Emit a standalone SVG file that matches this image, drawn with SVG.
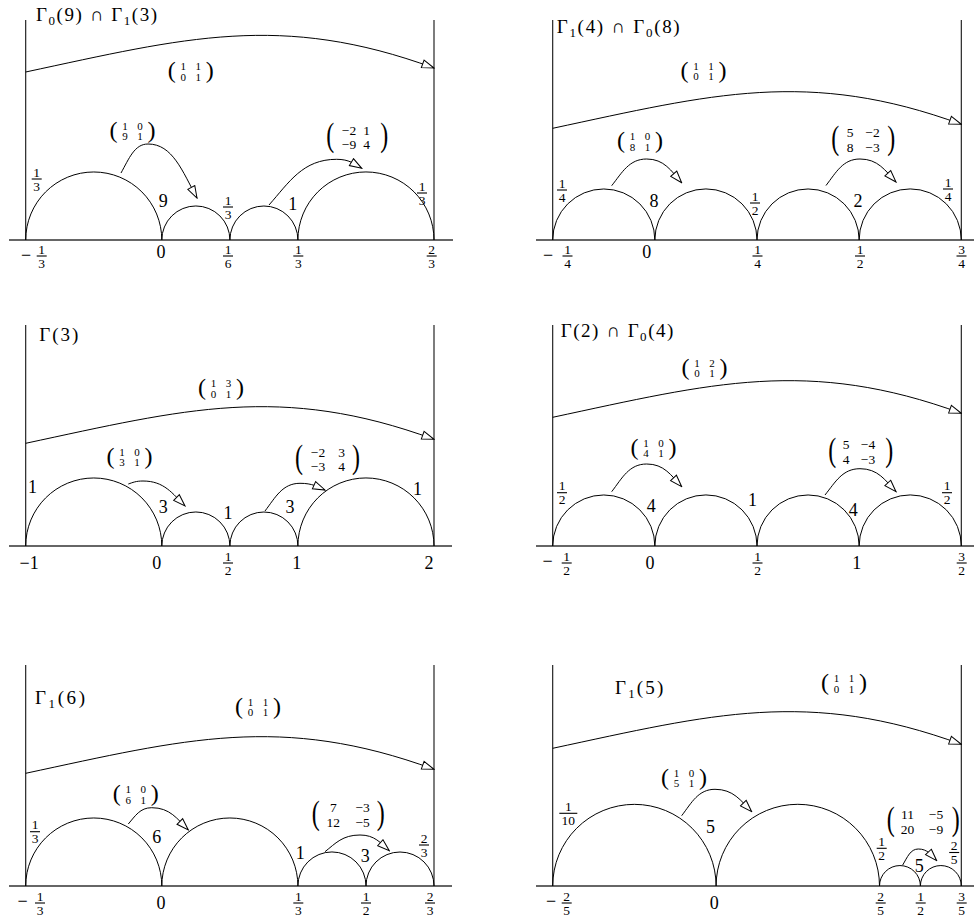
<svg xmlns="http://www.w3.org/2000/svg" width="974" height="924" viewBox="0 0 974 924">
<defs>
<style>
.ax{stroke:#333;stroke-width:1.4;fill:none}
.vl{stroke:#111;stroke-width:1.1;fill:none}
.arc{stroke:#000;stroke-width:1;fill:none}
.ar{stroke:#000;stroke-width:1;fill:none;marker-end:url(#ot)}
text{font-family:"Liberation Serif","Times New Roman",serif;fill:#000}
.n{font-size:18px;text-anchor:middle}
.f{font-size:13.5px;text-anchor:middle}
.fb{stroke:#000;stroke-width:1.1}
.sm{font-size:11px;text-anchor:middle}
.bm{font-size:13.5px;text-anchor:middle}
.p{font-size:24px;text-anchor:middle}
.t{font-size:19px}
.sub{font-size:13px}
</style>
<marker id="ot" viewBox="0 0 14 10" refX="13" refY="5" markerWidth="14" markerHeight="10" orient="auto" markerUnits="userSpaceOnUse">
<path d="M1,1 L13,5 L1,9 Z" fill="#fff" stroke="#000" stroke-width="1"/>
</marker>
</defs>
<rect width="974" height="924" fill="#fff"/>

<!-- Panel 1 -->
<g id="panel1">
<g id="p1-frame">
<line class="ax" x1="9" y1="240" x2="453" y2="240"/>
<line class="vl" x1="25.7" y1="20" x2="25.7" y2="240"/>
<line class="vl" x1="434" y1="20" x2="434" y2="240"/>
<path class="arc" d="M25.7,240 A68.05,68.05 0 0 1 161.8,240 A34.05,34.05 0 0 1 229.9,240 A34,34 0 0 1 297.9,240 A68.05,68.05 0 0 1 434,240"/>
</g>
<g id="p1-connectors">
<path class="ar" d="M25.7,72 C184.7,38 281,12 434,68"/>
<path class="ar" d="M121,173 C129.1,158.5 134.5,144 148,144 C172.5,144 182.3,171 197,198"/>
<path class="ar" d="M269,205 C289.3,182.1 302.8,159.3 336.7,159.3 C349.2,159.3 354.2,163.8 361.7,168.3"/>
</g>
<g id="p1-labels">
<text class="t" x="36" y="21" textLength="121" lengthAdjust="spacing">Γ<tspan class="sub" dy="4">0</tspan><tspan dy="-4">(9) ∩ Γ</tspan><tspan class="sub" dy="4">1</tspan><tspan dy="-4">(3)</tspan></text>
<g transform="translate(190.8,72)"><text class="p" x="-19" y="6">(</text><text class="p" x="19" y="6">)</text><text class="sm" x="-7.5" y="-2">1</text><text class="sm" x="7.5" y="-2">1</text><text class="sm" x="-7.5" y="8.5">0</text><text class="sm" x="7.5" y="8.5">1</text></g>
<g transform="translate(132.5,131.5)"><text class="p" x="-19" y="6">(</text><text class="p" x="19" y="6">)</text><text class="sm" x="-7.5" y="-2">1</text><text class="sm" x="7.5" y="-2">0</text><text class="sm" x="-7.5" y="8.5">9</text><text class="sm" x="7.5" y="8.5">1</text></g>
<g transform="translate(357.2,138.3)"><text class="p" transform="translate(-27,7.8) scale(1,1.4)">(</text><text class="p" transform="translate(27,7.8) scale(1,1.4)">)</text><text class="bm" x="-8.2" y="-3.5">−2</text><text class="bm" x="9.5" y="-3.5">1</text><text class="bm" x="-8.2" y="11">−9</text><text class="bm" x="9.5" y="11">4</text></g>
<text class="n" x="163.3" y="206.7">9</text>
<text class="n" x="292.7" y="210">1</text>
<g transform="translate(36.7,179)"><text class="f" y="-2.5">1</text><line class="fb" x1="-5" x2="5"/><text class="f" y="11.5">3</text></g>
<g transform="translate(228,207)"><text class="f" y="-2.5">1</text><line class="fb" x1="-5" x2="5"/><text class="f" y="11.5">3</text></g>
<g transform="translate(422,193)"><text class="f" y="-2.5">1</text><line class="fb" x1="-5" x2="5"/><text class="f" y="11.5">3</text></g>
<text class="n" x="26" y="261">−</text>
<g transform="translate(41.7,256)"><text class="f" y="-2.5">1</text><line class="fb" x1="-5" x2="5"/><text class="f" y="11.5">3</text></g>
<text class="n" x="161" y="258">0</text>
<g transform="translate(228,256)"><text class="f" y="-2.5">1</text><line class="fb" x1="-5" x2="5"/><text class="f" y="11.5">6</text></g>
<g transform="translate(298.3,256)"><text class="f" y="-2.5">1</text><line class="fb" x1="-5" x2="5"/><text class="f" y="11.5">3</text></g>
<g transform="translate(431.7,256)"><text class="f" y="-2.5">2</text><line class="fb" x1="-5" x2="5"/><text class="f" y="11.5">3</text></g>
</g>
</g>

<!-- Panel 2 -->
<g id="panel2">
<g id="p2-frame">
<line class="ax" x1="536" y1="240" x2="974" y2="240"/>
<line class="vl" x1="552.7" y1="20" x2="552.7" y2="240"/>
<line class="vl" x1="961.3" y1="20" x2="961.3" y2="240"/>
<path class="arc" d="M552.7,240 A51.075,51.075 0 0 1 654.85,240 A51.075,51.075 0 0 1 757,240 A51.075,51.075 0 0 1 859.15,240 A51.075,51.075 0 0 1 961.3,240"/>
</g>
<g id="p2-connectors">
<path class="ar" d="M552.7,128.3 C711.7,94.3 808.3,68.3 961.3,124.3"/>
<path class="ar" d="M611.7,185.7 C622.2,172.35 629.2,159 646.7,159 C664.2,159 671.2,170.85 681.7,182.7"/>
<path class="ar" d="M826,185.5 C836.2,172.25 843,159 860,159 C878,159 885.2,170.5 896,182"/>
</g>
<g id="p2-labels">
<text class="t" x="556.7" y="33" textLength="123" lengthAdjust="spacing">Γ<tspan class="sub" dy="4">1</tspan><tspan dy="-4">(4) ∩ Γ</tspan><tspan class="sub" dy="4">0</tspan><tspan dy="-4">(8)</tspan></text>
<g transform="translate(703.5,71.5)"><text class="p" x="-19" y="6">(</text><text class="p" x="19" y="6">)</text><text class="sm" x="-7.5" y="-2">1</text><text class="sm" x="7.5" y="-2">1</text><text class="sm" x="-7.5" y="8.5">0</text><text class="sm" x="7.5" y="8.5">1</text></g>
<g transform="translate(640,142)"><text class="p" x="-19" y="6">(</text><text class="p" x="19" y="6">)</text><text class="sm" x="-7.5" y="-2">1</text><text class="sm" x="7.5" y="-2">0</text><text class="sm" x="-7.5" y="8.5">8</text><text class="sm" x="7.5" y="8.5">1</text></g>
<g transform="translate(863.3,140.8)"><text class="p" transform="translate(-28,7.8) scale(1,1.4)">(</text><text class="p" transform="translate(28,7.8) scale(1,1.4)">)</text><text class="bm" x="-13.3" y="-3.5">5</text><text class="bm" x="9.2" y="-3.5">−2</text><text class="bm" x="-13.3" y="11">8</text><text class="bm" x="9.2" y="11">−3</text></g>
<text class="n" x="654" y="206.7">8</text>
<text class="n" x="858" y="206.7">2</text>
<g transform="translate(562,190)"><text class="f" y="-2.5">1</text><line class="fb" x1="-5" x2="5"/><text class="f" y="11.5">4</text></g>
<g transform="translate(755,203)"><text class="f" y="-2.5">1</text><line class="fb" x1="-5" x2="5"/><text class="f" y="11.5">2</text></g>
<g transform="translate(948,189)"><text class="f" y="-2.5">1</text><line class="fb" x1="-5" x2="5"/><text class="f" y="11.5">4</text></g>
<text class="n" x="548" y="261">−</text>
<g transform="translate(567.5,256)"><text class="f" y="-2.5">1</text><line class="fb" x1="-5" x2="5"/><text class="f" y="11.5">4</text></g>
<text class="n" x="646.7" y="258">0</text>
<g transform="translate(757.5,256)"><text class="f" y="-2.5">1</text><line class="fb" x1="-5" x2="5"/><text class="f" y="11.5">4</text></g>
<g transform="translate(860,256)"><text class="f" y="-2.5">1</text><line class="fb" x1="-5" x2="5"/><text class="f" y="11.5">2</text></g>
<g transform="translate(961.5,256)"><text class="f" y="-2.5">3</text><line class="fb" x1="-5" x2="5"/><text class="f" y="11.5">4</text></g>
</g>
</g>

<!-- Panel 3 -->
<g id="panel3">
<g id="p3-frame">
<line class="ax" x1="9" y1="546" x2="452" y2="546"/>
<line class="vl" x1="25.7" y1="325" x2="25.7" y2="546"/>
<line class="vl" x1="434" y1="325" x2="434" y2="546"/>
<path class="arc" d="M25.7,546 A68.05,68.05 0 0 1 161.8,546 A34.05,34.05 0 0 1 229.9,546 A34,34 0 0 1 297.9,546 A68.05,68.05 0 0 1 434,546"/>
</g>
<g id="p3-connectors">
<path class="ar" d="M25.7,443.3 C184.7,409.3 281,383.3 434,439.3"/>
<path class="ar" d="M128.3,484 C132.8,482.5 135.8,481 143,481 C164.2,481 172.5,493.5 185,506"/>
<path class="ar" d="M265,511 C275.5,497.2 282.5,483.3 300,483.3 C312.5,483.3 317.5,486.7 325,490"/>
</g>
<g id="p3-labels">
<text class="t" x="39.3" y="340.7" textLength="39" lengthAdjust="spacing">Γ(3)</text>
<g transform="translate(221,389)"><text class="p" x="-19" y="6">(</text><text class="p" x="19" y="6">)</text><text class="sm" x="-7.5" y="-2">1</text><text class="sm" x="7.5" y="-2">3</text><text class="sm" x="-7.5" y="8.5">0</text><text class="sm" x="7.5" y="8.5">1</text></g>
<g transform="translate(129.5,457.5)"><text class="p" x="-19" y="6">(</text><text class="p" x="19" y="6">)</text><text class="sm" x="-7.5" y="-2">1</text><text class="sm" x="7.5" y="-2">0</text><text class="sm" x="-7.5" y="8.5">3</text><text class="sm" x="7.5" y="8.5">1</text></g>
<g transform="translate(327.5,460)"><text class="p" transform="translate(-28.5,7.8) scale(1,1.4)">(</text><text class="p" transform="translate(28.5,7.8) scale(1,1.4)">)</text><text class="bm" x="-9.5" y="-3.5">−2</text><text class="bm" x="14.2" y="-3.5">3</text><text class="bm" x="-9.5" y="11">−3</text><text class="bm" x="14.2" y="11">4</text></g>
<text class="n" x="32.5" y="492.7">1</text>
<text class="n" x="163.3" y="512.7">3</text>
<text class="n" x="228" y="519.3">1</text>
<text class="n" x="290" y="512.7">3</text>
<text class="n" x="417.5" y="495">1</text>
<text class="n" x="29.2" y="569">−1</text>
<text class="n" x="156.7" y="569">0</text>
<g transform="translate(228,563)"><text class="f" y="-2.5">1</text><line class="fb" x1="-5" x2="5"/><text class="f" y="11.5">2</text></g>
<text class="n" x="296.7" y="569">1</text>
<text class="n" x="429" y="569">2</text>
</g>
</g>

<!-- Panel 4 -->
<g id="panel4">
<g id="p4-frame">
<line class="ax" x1="536" y1="546" x2="974" y2="546"/>
<line class="vl" x1="552.7" y1="325" x2="552.7" y2="546"/>
<line class="vl" x1="961.3" y1="325" x2="961.3" y2="546"/>
<path class="arc" d="M552.7,546 A51.075,51.075 0 0 1 654.85,546 A51.075,51.075 0 0 1 757,546 A51.075,51.075 0 0 1 859.15,546 A51.075,51.075 0 0 1 961.3,546"/>
</g>
<g id="p4-connectors">
<path class="ar" d="M552.7,417.3 C711.7,383.3 808.3,357.3 961.3,413.3"/>
<path class="ar" d="M611.7,491.7 C622.2,477.9 629.2,464 646.7,464 C664.2,464 671.2,475.4 681.7,486.7"/>
<path class="ar" d="M825,495 C835.5,481.9 842.5,468.7 860,468.7 C878,468.7 885.2,480.2 896,491.7"/>
</g>
<g id="p4-labels">
<text class="t" x="560.7" y="337" textLength="112.6" lengthAdjust="spacing">Γ(2) ∩ Γ<tspan class="sub" dy="4">0</tspan><tspan dy="-4">(4)</tspan></text>
<g transform="translate(704.5,368.5)"><text class="p" x="-19" y="6">(</text><text class="p" x="19" y="6">)</text><text class="sm" x="-7.5" y="-2">1</text><text class="sm" x="7.5" y="-2">2</text><text class="sm" x="-7.5" y="8.5">0</text><text class="sm" x="7.5" y="8.5">1</text></g>
<g transform="translate(653.5,448.5)"><text class="p" x="-19" y="6">(</text><text class="p" x="19" y="6">)</text><text class="sm" x="-7.5" y="-2">1</text><text class="sm" x="7.5" y="-2">0</text><text class="sm" x="-7.5" y="8.5">4</text><text class="sm" x="7.5" y="8.5">1</text></g>
<g transform="translate(860.8,452.7)"><text class="p" transform="translate(-28.5,7.8) scale(1,1.4)">(</text><text class="p" transform="translate(28.5,7.8) scale(1,1.4)">)</text><text class="bm" x="-14.8" y="-3.5">5</text><text class="bm" x="7.2" y="-3.5">−4</text><text class="bm" x="-14.8" y="11">4</text><text class="bm" x="7.2" y="11">−3</text></g>
<text class="n" x="651.3" y="511.7">4</text>
<text class="n" x="752.5" y="506">1</text>
<text class="n" x="853.3" y="516">4</text>
<g transform="translate(562,492.7)"><text class="f" y="-2.5">1</text><line class="fb" x1="-5" x2="5"/><text class="f" y="11.5">2</text></g>
<g transform="translate(947,492.7)"><text class="f" y="-2.5">1</text><line class="fb" x1="-5" x2="5"/><text class="f" y="11.5">2</text></g>
<text class="n" x="547.5" y="567">−</text>
<g transform="translate(566.7,563)"><text class="f" y="-2.5">1</text><line class="fb" x1="-5" x2="5"/><text class="f" y="11.5">2</text></g>
<text class="n" x="650" y="569">0</text>
<g transform="translate(757.5,563)"><text class="f" y="-2.5">1</text><line class="fb" x1="-5" x2="5"/><text class="f" y="11.5">2</text></g>
<text class="n" x="856.7" y="569">1</text>
<g transform="translate(961.7,563)"><text class="f" y="-2.5">3</text><line class="fb" x1="-5" x2="5"/><text class="f" y="11.5">2</text></g>
</g>
</g>

<!-- Panel 5 -->
<g id="panel5">
<g id="p5-frame">
<line class="ax" x1="9" y1="886" x2="452" y2="886"/>
<line class="vl" x1="25.7" y1="665" x2="25.7" y2="886"/>
<line class="vl" x1="434" y1="665" x2="434" y2="886"/>
<path class="arc" d="M25.7,886 A68.05,68.05 0 0 1 161.8,886 A68.05,68.05 0 0 1 297.9,886 A34.05,34.05 0 0 1 366,886 A34,34 0 0 1 434,886"/>
</g>
<g id="p5-connectors">
<path class="ar" d="M25.7,773.3 C184.7,739.3 281,713.3 434,769.3"/>
<path class="ar" d="M128.3,824 C135.3,815.9 140,807.7 151.7,807.7 C170,807.7 177.3,818.9 188.3,830"/>
<path class="ar" d="M325,851.7 C335.5,843.4 342.5,835 360,835 C374.7,835 380.5,842.9 389.3,850.7"/>
</g>
<g id="p5-labels">
<text class="t" x="35" y="704" textLength="50" lengthAdjust="spacing">Γ<tspan class="sub" dy="4">1</tspan><tspan dy="-4">(6)</tspan></text>
<g transform="translate(258,707.5)"><text class="p" x="-19" y="6">(</text><text class="p" x="19" y="6">)</text><text class="sm" x="-7.5" y="-2">1</text><text class="sm" x="7.5" y="-2">1</text><text class="sm" x="-7.5" y="8.5">0</text><text class="sm" x="7.5" y="8.5">1</text></g>
<g transform="translate(135.8,795)"><text class="p" x="-19" y="6">(</text><text class="p" x="19" y="6">)</text><text class="sm" x="-7.5" y="-2">1</text><text class="sm" x="7.5" y="-2">0</text><text class="sm" x="-7.5" y="8.5">6</text><text class="sm" x="7.5" y="8.5">1</text></g>
<g transform="translate(348.3,815.8)"><text class="p" transform="translate(-32.5,7.8) scale(1,1.4)">(</text><text class="p" transform="translate(32.5,7.8) scale(1,1.4)">)</text><text class="bm" x="-15" y="-3.5">7</text><text class="bm" x="14.4" y="-3.5">−3</text><text class="bm" x="-15" y="11">12</text><text class="bm" x="14.4" y="11">−5</text></g>
<text class="n" x="156.7" y="843.3">6</text>
<text class="n" x="300.3" y="859.3">1</text>
<text class="n" x="365.3" y="862.3">3</text>
<g transform="translate(35,831.7)"><text class="f" y="-2.5">1</text><line class="fb" x1="-5" x2="5"/><text class="f" y="11.5">3</text></g>
<g transform="translate(424,845)"><text class="f" y="-2.5">2</text><line class="fb" x1="-5" x2="5"/><text class="f" y="11.5">3</text></g>
<text class="n" x="22.5" y="907">−</text>
<g transform="translate(40,903)"><text class="f" y="-2.5">1</text><line class="fb" x1="-5" x2="5"/><text class="f" y="11.5">3</text></g>
<text class="n" x="161" y="909">0</text>
<g transform="translate(298.3,903)"><text class="f" y="-2.5">1</text><line class="fb" x1="-5" x2="5"/><text class="f" y="11.5">3</text></g>
<g transform="translate(366,903)"><text class="f" y="-2.5">1</text><line class="fb" x1="-5" x2="5"/><text class="f" y="11.5">2</text></g>
<g transform="translate(430,903)"><text class="f" y="-2.5">2</text><line class="fb" x1="-5" x2="5"/><text class="f" y="11.5">3</text></g>
</g>
</g>

<!-- Panel 6 -->
<g id="panel6">
<g id="p6-frame">
<line class="ax" x1="536" y1="886" x2="974" y2="886"/>
<line class="vl" x1="552.7" y1="665" x2="552.7" y2="886"/>
<line class="vl" x1="961.3" y1="665" x2="961.3" y2="886"/>
<path class="arc" d="M552.7,886 A81.7,81.7 0 0 1 716.1,886 A81.7,81.7 0 0 1 879.5,886 A20.45,20.45 0 0 1 920.4,886 A20.45,20.45 0 0 1 961.3,886"/>
</g>
<g id="p6-connectors">
<path class="ar" d="M552.7,748.3 C711.7,714.3 808.3,688.3 961.3,744.3"/>
<path class="ar" d="M681.7,815.7 C691.7,802.5 698.4,789.3 715,789.3 C733.4,789.3 740.7,800.5 751.7,811.7"/>
<path class="ar" d="M902.7,865 C907.4,857 910.5,849 918.3,849 C927.5,849 931.2,854.9 936.7,860.7"/>
</g>
<g id="p6-labels">
<text class="t" x="615" y="693.5" textLength="48.3" lengthAdjust="spacing">Γ<tspan class="sub" dy="4">1</tspan><tspan dy="-4">(5)</tspan></text>
<g transform="translate(844,684)"><text class="p" x="-19" y="6">(</text><text class="p" x="19" y="6">)</text><text class="sm" x="-7.5" y="-2">1</text><text class="sm" x="7.5" y="-2">1</text><text class="sm" x="-7.5" y="8.5">0</text><text class="sm" x="7.5" y="8.5">1</text></g>
<g transform="translate(684,778.5)"><text class="p" x="-19" y="6">(</text><text class="p" x="19" y="6">)</text><text class="sm" x="-7.5" y="-2">1</text><text class="sm" x="7.5" y="-2">0</text><text class="sm" x="-7.5" y="8.5">5</text><text class="sm" x="7.5" y="8.5">1</text></g>
<g transform="translate(923.3,822.5)"><text class="p" transform="translate(-32.5,7.8) scale(1,1.4)">(</text><text class="p" transform="translate(32.5,7.8) scale(1,1.4)">)</text><text class="bm" x="-15.8" y="-3.5">11</text><text class="bm" x="12.7" y="-3.5">−5</text><text class="bm" x="-15.8" y="11">20</text><text class="bm" x="12.7" y="11">−9</text></g>
<text class="n" x="710.5" y="833.3">5</text>
<text class="n" x="919.2" y="872.3">5</text>
<g transform="translate(568.3,813.3)"><text class="f" y="-2.5">1</text><line class="fb" x1="-9" x2="9"/><text class="f" y="11.5">10</text></g>
<g transform="translate(881.7,848.3)"><text class="f" y="-2.5">1</text><line class="fb" x1="-5" x2="5"/><text class="f" y="11.5">2</text></g>
<g transform="translate(954.2,852.5)"><text class="f" y="-2.5">2</text><line class="fb" x1="-5" x2="5"/><text class="f" y="11.5">5</text></g>
<text class="n" x="551" y="907">−</text>
<g transform="translate(566.7,903)"><text class="f" y="-2.5">2</text><line class="fb" x1="-5" x2="5"/><text class="f" y="11.5">5</text></g>
<text class="n" x="714.3" y="909">0</text>
<g transform="translate(880.7,903)"><text class="f" y="-2.5">2</text><line class="fb" x1="-5" x2="5"/><text class="f" y="11.5">5</text></g>
<g transform="translate(920.7,903)"><text class="f" y="-2.5">1</text><line class="fb" x1="-5" x2="5"/><text class="f" y="11.5">2</text></g>
<g transform="translate(961.7,903)"><text class="f" y="-2.5">3</text><line class="fb" x1="-5" x2="5"/><text class="f" y="11.5">5</text></g>
</g>
</g>
</svg>
